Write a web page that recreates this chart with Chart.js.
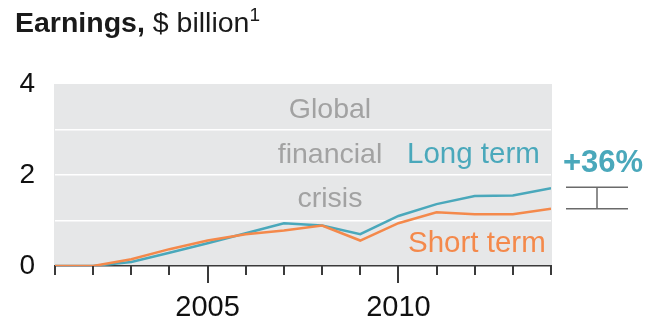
<!DOCTYPE html>
<html>
<head>
<meta charset="utf-8">
<script src="https://cdn.jsdelivr.net/npm/chart.js@4/dist/chart.umd.min.js"></script>
<style>
  html, body { margin: 0; padding: 0; background: #fff; }
  #wrap { position: relative; width: 649px; height: 324px; overflow: hidden; }
  #title { position: absolute; left: 15px; top: 8px; font-family: "Liberation Sans", Arial, sans-serif; font-size: 28.5px; line-height: 28px; color: #1a1a1a; white-space: nowrap; }
  #title b { font-weight: bold; }
  #title sup { font-size: 19px; position: relative; top: -3px; vertical-align: top; line-height: 19px; }
  canvas { position: absolute; left: 0; top: 0; }
</style>
</head>
<body>
<div id="wrap">
  <canvas id="c" width="649" height="324"></canvas>
  <div id="title"><b>Earnings,</b> $ billion<sup>1</sup></div>
</div>
<script>
// ---- data ----
const years = [2001, 2002, 2003, 2004, 2005, 2006, 2007, 2008, 2009, 2010, 2011, 2012, 2013, 2014];
const longTerm = [0, 0, 0.09, 0.29, 0.50, 0.72, 0.94, 0.89, 0.70, 1.10, 1.36, 1.54, 1.55, 1.71];
const shortTerm = [0, 0, 0.15, 0.37, 0.56, 0.70, 0.78, 0.89, 0.56, 0.94, 1.18, 1.14, 1.14, 1.26];
const xTickLabels = [2005, 2010];
const yTickLabels = [0, 2, 4];
const seriesNames = ['Long term', 'Short term'];
const crisisLabel = ['Global', 'financial', 'crisis'];
const changeLabel = '+36%';

const TEAL = '#4aa8bb';
const ORANGE = '#f4894b';
const FONT = '"Liberation Sans", Arial, sans-serif';

const decor = {
  id: 'decor',
  beforeDraw(chart) {
    const { ctx, chartArea: a } = chart;
    ctx.save();
    ctx.fillStyle = '#e6e7e8';
    ctx.fillRect(a.left - 1, a.top, a.right - a.left + 2, a.bottom - a.top);
    ctx.restore();
  },
  afterDraw(chart) {
    const { ctx, chartArea: a } = chart;
    const xs = chart.scales.x, ys = chart.scales.y;
    ctx.save();
    // x tick marks
    ctx.strokeStyle = '#3a3a3a';
    ctx.lineWidth = 2;
    years.forEach(yr => {
      const px = Math.round(xs.getPixelForValue(yr));
      const len = xTickLabels.includes(yr) ? 17 : 9;
      ctx.beginPath();
      ctx.moveTo(px, a.bottom);
      ctx.lineTo(px, a.bottom + len);
      ctx.stroke();
    });
    // crisis text
    ctx.font = '28.5px ' + FONT;
    ctx.fillStyle = '#a2a2a2';
    ctx.textAlign = 'center';
    ctx.textBaseline = 'alphabetic';
    const cBase = [118, 162.5, 207];
    crisisLabel.forEach((t, i) => ctx.fillText(t, 330, cBase[i]));
    // series labels
    ctx.font = '29.5px ' + FONT;
    ctx.textAlign = 'left';
    ctx.fillStyle = TEAL;
    ctx.fillText(seriesNames[0], 407, 162.5);
    ctx.fillStyle = ORANGE;
    ctx.fillText(seriesNames[1], 408, 251.5);
    // change label
    ctx.font = 'bold 31px ' + FONT;
    ctx.fillStyle = TEAL;
    ctx.fillText(changeLabel, 563, 172);
    // bracket
    const y1 = ys.getPixelForValue(longTerm[longTerm.length - 1]) - 1;
    const y2 = ys.getPixelForValue(shortTerm[shortTerm.length - 1]);
    ctx.strokeStyle = '#6a6a6a';
    ctx.lineWidth = 1.5;
    ctx.beginPath();
    ctx.moveTo(566, y1); ctx.lineTo(628, y1);
    ctx.moveTo(566, y2); ctx.lineTo(628, y2);
    ctx.moveTo(597, y1); ctx.lineTo(597, y2);
    ctx.stroke();
    ctx.restore();
  }
};

new Chart(document.getElementById('c'), {
  type: 'line',
  data: {
    datasets: [
      {
        label: seriesNames[0],
        data: years.map((y, i) => ({ x: y, y: longTerm[i] })),
        borderColor: TEAL, borderWidth: 2.5, pointRadius: 0, tension: 0, order: 1, fill: false
      },
      {
        label: seriesNames[1],
        data: years.map((y, i) => ({ x: y, y: shortTerm[i] })),
        borderColor: ORANGE, borderWidth: 2.5, pointRadius: 0, tension: 0, order: 0, fill: false
      }
    ]
  },
  options: {
    responsive: false,
    devicePixelRatio: 1,
    animation: false,
    layout: { padding: { top: 84, right: 98, bottom: 0, left: 0 } },
    plugins: { legend: { display: false }, tooltip: { enabled: false }, title: { display: false } },
    scales: {
      x: {
        type: 'linear',
        min: years[0],
        max: years[years.length - 1],
        afterFit(s) { s.height = 58; },
        grid: { display: false, drawTicks: false },
        border: { display: true, color: '#3a3a3a', width: 1.5 },
        ticks: {
          stepSize: 1, autoSkip: false, maxRotation: 0, padding: 25,
          color: '#111', font: { family: FONT, size: 29 },
          callback: v => xTickLabels.includes(v) ? String(v) : ''
        }
      },
      y: {
        min: 0, max: 4,
        afterFit(s) { s.width = 55; },
        grid: {
          drawTicks: false, lineWidth: 1.5,
          color: c => (c.tick && c.tick.value > 0 && c.tick.value < 4) ? '#ffffff' : 'rgba(0,0,0,0)'
        },
        border: { display: false },
        ticks: {
          stepSize: 1, padding: 20, color: '#111', font: { family: FONT, size: 28 },
          callback: v => yTickLabels.includes(v) ? String(v) : ''
        }
      }
    }
  },
  plugins: [decor]
});
</script>
</body>
</html>
